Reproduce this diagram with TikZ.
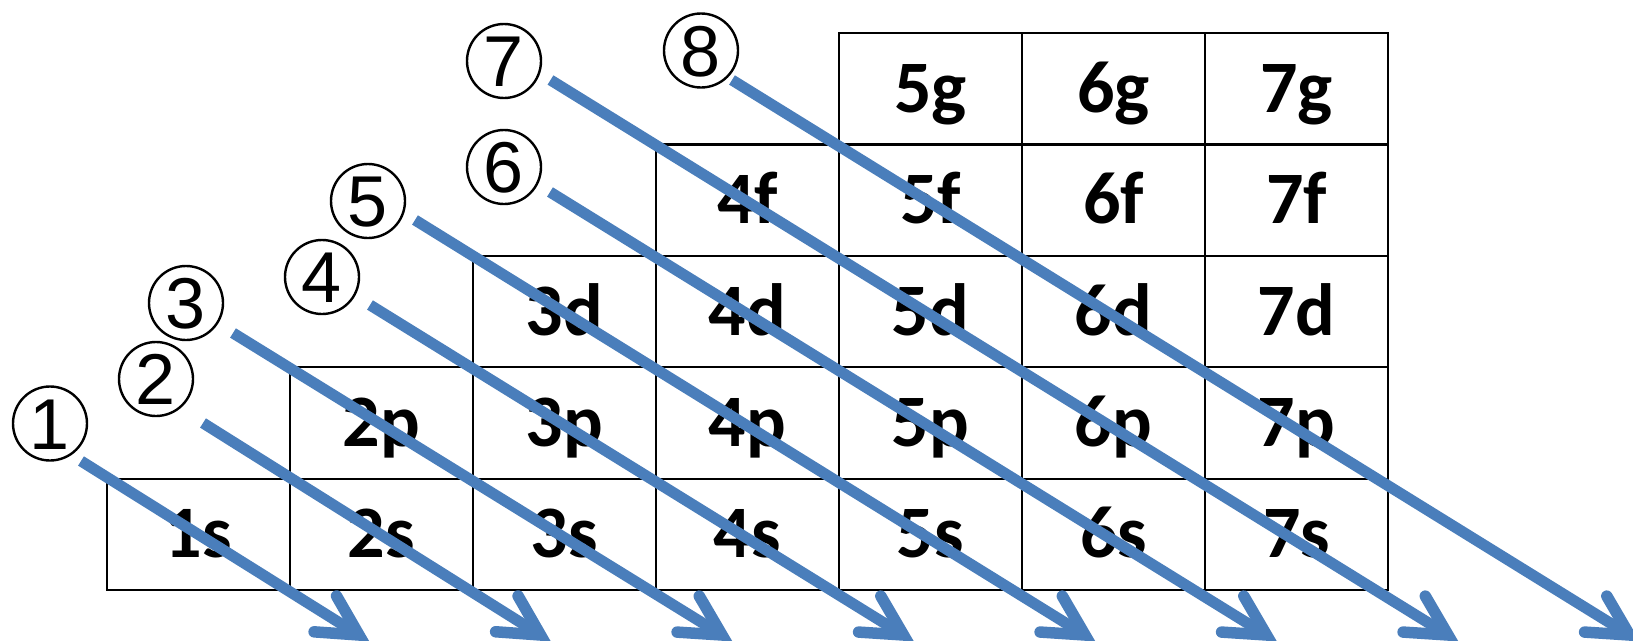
\documentclass[tikz,border=0pt]{standalone}
\usepackage{fontspec}
\newfontfamily\cellfont{Carlito}
\newfontfamily\numfont{Liberation Sans}
\usetikzlibrary{calc}
\definecolor{arrowblue}{RGB}{74,126,187}
\tikzset{
  cell/.style={rectangle, draw=black, line width=2.2pt, minimum width=183pt,
    minimum height=111.4pt, inner sep=0pt, text height=47pt, text depth=0pt,
    font=\cellfont\bfseries\fontsize{74}{80}\selectfont},
  num/.style={circle, draw=black, line width=2.4pt, minimum size=74pt, inner sep=0pt,
    text height=51.5pt, text depth=0pt,
    font=\numfont\fontsize{72}{72}\selectfont},
  shaft/.style={draw=arrowblue, line width=11pt, line cap=butt},
  head/.style={draw=arrowblue, line width=11.5pt, line cap=round, line join=miter}
}
\begin{document}
\begin{tikzpicture}[x=1pt,y=-1pt]
\useasboundingbox (0,0) rectangle (1633,640);
% grid of orbitals
\foreach \r/\l in {1/s,2/p,3/d,4/f,5/g}{
  \foreach \n in {\r,...,7}{
    \node[cell] (\n\l) at ({198.5+183*(\n-1)},{534.3-111.4*(\r-1)}) {\n\l};
  }
}
% circled numbers
\node[num] (c1) at (50,423.5) {1};
\node[num] (c2) at (156,379) {2};
\node[num] (c3) at (186,303) {3};
\node[num] (c4) at (322,277) {4};
\node[num] (c5) at (368,201) {5};
\node[num] (c6) at (504,167) {6};
\node[num] (c7) at (504,61) {7};
\node[num] (c8) at (701,50.5) {8};
% arrow start and tip coordinates
\coordinate (s1) at (81,461);
\coordinate (s2) at (203,423);
\coordinate (s3) at (233,333);
\coordinate (s4) at (370,305);
\coordinate (s5) at (415,220);
\coordinate (s6) at (550,192);
\coordinate (s7) at (550.5,80);
\coordinate (s8) at (732,80);
\foreach \i in {1,...,8}{
  \coordinate (v\i) at ({359+181.5*(\i-1)},635);
}
\foreach \i in {1,...,8}{
  \draw[shaft] (s\i) -- (v\i);
  \draw[head] ($(v\i)!45pt!28:(s\i)$) -- (v\i) -- ($(v\i)!45pt!-28:(s\i)$);
}
\end{tikzpicture}
\end{document}
